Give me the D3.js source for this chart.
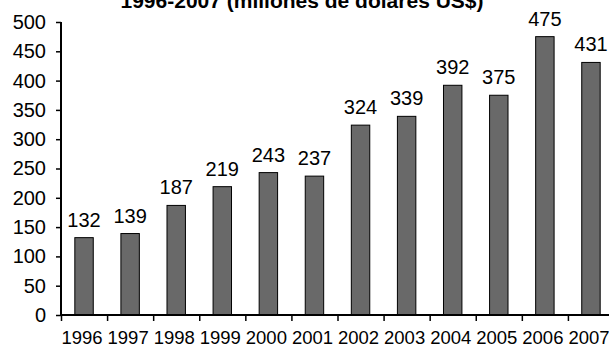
<!DOCTYPE html>
<html>
<head>
<meta charset="utf-8">
<script src="https://cdn.jsdelivr.net/npm/d3@7"></script>
<style>
  body { margin: 0; background: #fff; }
  svg { display: block; font-family: "Liberation Sans", Arial, sans-serif; }
</style>
</head>
<body>
<div id="chart"></div>
<script>
const years = ["1996", "1997", "1998", "1999", "2000", "2001", "2002", "2003", "2004", "2005", "2006", "2007"];
const values = [132, 139, 187, 219, 243, 237, 324, 339, 392, 375, 475, 431];
const yTicks = [0, 50, 100, 150, 200, 250, 300, 350, 400, 450, 500];
const title = "1996-2007 (millones de dólares US$)";

const width = 609, height = 345;
// the original chart runs a little past the right edge of the picture
const margin = { top: 22, right: -5, bottom: 30, left: 61 };

const svg = d3.select("#chart").append("svg")
    .attr("width", width)
    .attr("height", height);

const x = d3.scaleBand()
    .domain(years)
    .range([margin.left, width - margin.right])
    .paddingInner(0.6)
    .paddingOuter(0.3);

const y = d3.scaleLinear()
    .domain([0, 500])
    .range([height - margin.bottom, margin.top]);

// title, clipped by the top edge in the original
svg.append("text")
    .attr("x", 302)
    .attr("y", 8)
    .attr("text-anchor", "middle")
    .style("font-weight", "bold")
    .style("font-size", "21px")
    .text(title);

svg.selectAll(".bar")
    .data(values)
    .join("rect")
    .attr("class", "bar")
    .attr("x", (d, i) => x(years[i]))
    .attr("y", d => y(d))
    .attr("width", x.bandwidth())
    .attr("height", d => y(0) - y(d))
    .attr("fill", "#696969")
    .attr("stroke", "#000")
    .attr("stroke-width", 1);

svg.selectAll(".val")
    .data(values)
    .join("text")
    .attr("class", "val")
    .attr("x", (d, i) => x(years[i]) + x.bandwidth() / 2)
    .attr("y", d => y(d) - 11)
    .attr("text-anchor", "middle")
    .style("font-size", "20px")
    .text(d => d);

// y axis
const yAxis = svg.append("g")
    .attr("transform", `translate(${margin.left},0)`)
    .call(d3.axisLeft(y).tickValues(yTicks).tickSize(5).tickPadding(10));
yAxis.select(".domain").attr("stroke", "#000").attr("stroke-width", 2)
    .attr("d", `M0,${y(500)}V${y(0)}`);
yAxis.selectAll(".tick line").attr("stroke", "#000").attr("stroke-width", 1.5);
yAxis.selectAll(".tick text")
    .style("font-size", "20px")
    .style("font-family", "Liberation Sans, Arial, sans-serif")
    .attr("fill", "#000");

// x axis: ticks sit between categories
const xAxisG = svg.append("g").attr("transform", `translate(0,${y(0)})`);
xAxisG.append("line")
    .attr("x1", margin.left).attr("x2", width)
    .attr("stroke", "#000").attr("stroke-width", 2);
const step = x.step();
xAxisG.selectAll(".xt")
    .data(years)
    .join("line")
    .attr("class", "xt")
    .attr("x1", d => x(d) - x.paddingInner() * step / 2 + 0.5)
    .attr("x2", d => x(d) - x.paddingInner() * step / 2 + 0.5)
    .attr("y1", 0).attr("y2", 6)
    .attr("stroke", "#000").attr("stroke-width", 1.5);
xAxisG.selectAll(".xl")
    .data(years)
    .join("text")
    .attr("class", "xl")
    .attr("x", d => x(d) + x.bandwidth() / 2 - 2)
    .attr("y", 29)
    .attr("text-anchor", "middle")
    .style("font-size", "18.5px")
    .text(d => d);
</script>
</body>
</html>
